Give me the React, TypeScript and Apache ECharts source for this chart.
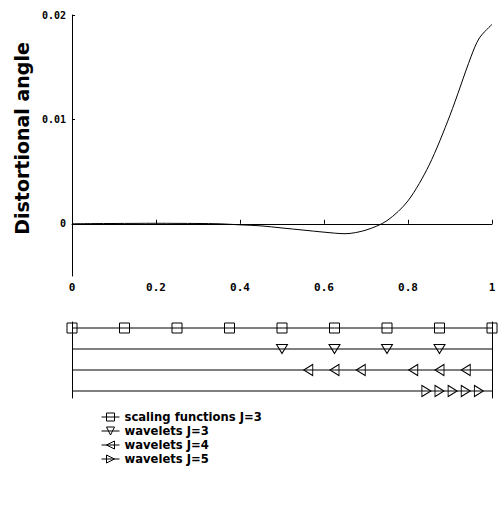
import React, { useEffect, useRef } from "react";
import * as echarts from "echarts";

// Main curve: distortional angle vs normalized position
const curveX = [0, 0.05, 0.1, 0.15, 0.2, 0.25, 0.3, 0.35, 0.4, 0.45, 0.5, 0.55, 0.6, 0.65, 0.7, 0.75, 0.8, 0.85, 0.9, 0.95, 0.97, 1.0];
const curveY = [0, 0.00002, 0.00003, 0.00004, 0.00005, 0.00004, 0.00003, 0.0, -0.0001, -0.0002, -0.0004, -0.0006, -0.0008, -0.00095, -0.0006, 0.0003, 0.0022, 0.0056, 0.0104, 0.016, 0.0178, 0.0191];

// Basis-function locations (bottom strip)
const scalingJ3X = [0, 0.125, 0.25, 0.375, 0.5, 0.625, 0.75, 0.875, 1];
const waveletJ3X = [0.5, 0.625, 0.75, 0.875];
const waveletJ4X = [0.5625, 0.625, 0.6875, 0.8125, 0.875, 0.9375];
const waveletJ5X = [0.84375, 0.875, 0.90625, 0.9375, 0.96875];
const rowLevels = [4, 3, 2, 1];
const seriesNames = ["scaling functions J=3", "wavelets J=3", "wavelets J=4", "wavelets J=5"];

const yTickValues = [0, 0.01, 0.02];

export default function App() {
  const ref = useRef<HTMLDivElement>(null);

  useEffect(() => {
    if (!ref.current) return;
    const chart = echarts.init(ref.current, undefined, { renderer: "svg" });

    const rowData = (xs: number[], level: number, withEnds: boolean) => {
      const pts: any[] = [];
      if (withEnds) pts.push({ value: [0, level], symbol: "none" });
      xs.forEach((x) => pts.push([x, level]));
      if (withEnds) pts.push({ value: [1, level], symbol: "none" });
      return pts;
    };

    const markerStyle = {
      color: "rgba(255,255,255,0)",
      borderColor: "#000",
      borderWidth: 1,
    };
    const lineStyle = { color: "#000", width: 1 };

    const rowSeries = (name: string, data: any[], symbol: string, rotate: number, size: any) => ({
      name,
      type: "line",
      xAxisIndex: 1,
      yAxisIndex: 1,
      data,
      symbol,
      symbolRotate: rotate,
      symbolSize: size,
      showAllSymbol: true,
      lineStyle,
      itemStyle: markerStyle,
      emphasis: { disabled: true },
      z: 3,
    });

    chart.setOption({
      animation: false,
      backgroundColor: "#fff",
      grid: [
        { left: 72, top: 15, width: 420, height: 261 },
        { left: 72, top: 322, width: 420, height: 76 },
      ],
      xAxis: [
        {
          type: "value",
          gridIndex: 0,
          min: 0,
          max: 1,
          interval: 0.2,
          axisLine: { show: true, lineStyle: { color: "#000", width: 1 } },
          axisTick: { show: true, inside: true, length: 4, lineStyle: { color: "#000" } },
          axisLabel: {
            color: "#000",
            fontFamily: "DejaVu Sans Mono",
            fontWeight: "bold",
            fontSize: 11,
            margin: 6,
          },
          splitLine: { show: false },
        },
        {
          type: "value",
          gridIndex: 1,
          min: 0,
          max: 1,
          show: false,
        },
      ],
      yAxis: [
        {
          type: "value",
          gridIndex: 0,
          min: -0.005,
          max: 0.02,
          name: "Distortional angle",
          nameLocation: "middle",
          nameGap: 32,
          nameTextStyle: {
            color: "#000",
            fontFamily: "DejaVu Sans",
            fontWeight: "bold",
            fontSize: 19,
            padding: [0, 0, 0, 14],
          },
          axisLine: { show: true, lineStyle: { color: "#000", width: 1 } },
          axisTick: { show: true, inside: true, length: 3, customValues: yTickValues, lineStyle: { color: "#000" } },
          axisLabel: {
            customValues: yTickValues,
            color: "#000",
            fontFamily: "DejaVu Sans Mono",
            fontWeight: "bold",
            fontSize: 10,
            margin: 6,
            formatter: (v: number) => (v === 0 ? "0" : v.toFixed(2)),
          },
          splitLine: { show: false },
        },
        {
          type: "value",
          gridIndex: 1,
          min: 0.667,
          max: 4.286,
          axisLine: { show: true, lineStyle: { color: "#000", width: 1 } },
          axisTick: { show: false },
          axisLabel: { show: false },
          splitLine: { show: false },
        },
        {
          type: "value",
          gridIndex: 1,
          position: "right",
          min: 0.667,
          max: 4.286,
          axisLine: { show: true, onZero: false, lineStyle: { color: "#000", width: 1 } },
          axisTick: { show: false },
          axisLabel: { show: false },
          splitLine: { show: false },
        },
      ],
      legend: {
        orient: "vertical",
        left: 101,
        top: 410,
        padding: 0,
        itemWidth: 18,
        itemHeight: 10,
        itemGap: 0,
        data: seriesNames,
        textStyle: {
          color: "#000",
          fontFamily: "DejaVu Sans",
          fontWeight: "bold",
          fontSize: 11.6,
          lineHeight: 14,
        },
        lineStyle: { color: "#000", width: 1 },
        itemStyle: { color: "rgba(255,255,255,0)", borderColor: "#000", borderWidth: 1 },
        selectedMode: false,
      },
      series: [
        {
          type: "line",
          xAxisIndex: 0,
          yAxisIndex: 0,
          data: curveX.map((x, i) => [x, curveY[i]]),
          smooth: 0.3,
          symbol: "none",
          lineStyle,
          emphasis: { disabled: true },
        },
        rowSeries(seriesNames[0], rowData(scalingJ3X, rowLevels[0], false), "rect", 0, [10, 10]),
        rowSeries(seriesNames[1], rowData(waveletJ3X, rowLevels[1], true), "triangle", 180, [11, 9]),
        rowSeries(seriesNames[2], rowData(waveletJ4X, rowLevels[2], true), "triangle", 90, [11, 9]),
        rowSeries(seriesNames[3], rowData(waveletJ5X, rowLevels[3], true), "triangle", -90, [11, 9]),
      ],
    });

    return () => chart.dispose();
  }, []);

  return (
    <div
      ref={ref}
      style={{ position: "absolute", left: 0, top: 0, width: 501, height: 510 }}
    />
  );
}
